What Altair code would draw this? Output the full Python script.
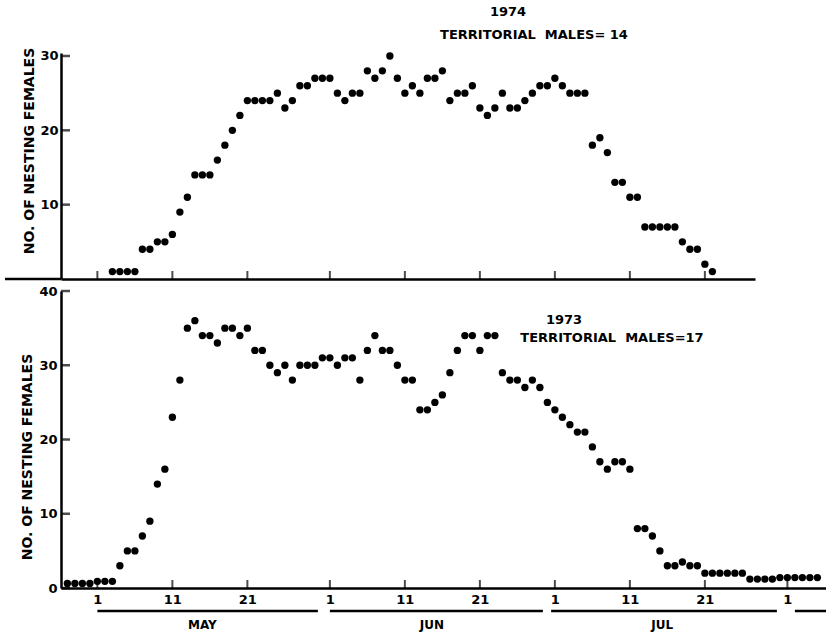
import altair as alt
import pandas as pd

# ---------------- data ----------------
# day numbering: May 1 = 1, Jun 1 = 32, Jul 1 = 62, Aug 1 = 93
days_1974 = list(range(3, 84))
females_1974 = [1, 1, 1, 1, 4, 4, 5, 5, 6, 9, 11, 14, 14, 14, 16, 18, 20, 22,
                24, 24, 24, 24, 25, 23, 24, 26, 26, 27, 27, 27, 25, 24, 25, 25,
                28, 27, 28, 30, 27, 25, 26, 25, 27, 27, 28, 24, 25, 25, 26, 23,
                22, 23, 25, 23, 23, 24, 25, 26, 26, 27, 26, 25, 25, 25, 18, 19,
                17, 13, 13, 11, 11, 7, 7, 7, 7, 7, 5, 4, 4, 2, 1]

days_1973 = list(range(-3, 98))
females_1973 = [0.6, 0.6, 0.6, 0.6, 0.9, 0.9, 0.9,
                3, 5, 5, 7, 9, 14, 16, 23, 28, 35, 36, 34, 34, 33, 35, 35, 34, 35,
                32, 32, 30, 29, 30, 28, 30, 30, 30, 31, 31, 30, 31, 31, 28, 32, 34,
                32, 32, 30, 28, 28, 24, 24, 25, 26, 29, 32, 34, 34, 32, 34, 34, 29,
                28, 28, 27, 28, 27, 25, 24, 23, 22, 21, 21, 19, 17, 16, 17, 17, 16,
                8, 8, 7, 5, 3, 3, 3.5, 3, 3,
                2, 2, 2, 2, 2, 2,
                1.2, 1.2, 1.2, 1.2,
                1.4, 1.4, 1.4, 1.4, 1.4, 1.4]

tick_days_top = [1, 11, 21, 32, 42, 52, 62, 72, 82]
tick_days_bottom = [1, 11, 21, 32, 42, 52, 62, 72, 82, 93]
y_ticks_1974 = [10, 20, 30]
y_ticks_1973 = [0, 10, 20, 30, 40]
month_labels = ["MAY", "JUN", "JUL"]
month_label_days = [15, 45.6, 76.3]
month_bar_start = [1, 32, 61.5, 94]
month_bar_end = [30.4, 60.4, 91.6, 98.15]

y_title = "NO. OF NESTING FEMALES"
year_1974 = "1974"
males_1974 = "TERRITORIAL\u00a0\u00a0MALES=\u00a014"
year_1973 = "1973"
males_1973 = "TERRITORIAL\u00a0\u00a0MALES=17"

# ---------------- layout constants ----------------
X0 = -3.85
PX_PER_DAY = 7.5
W_TOP, H_TOP = 694, 226
W_BOT, H_BOT = 765, 297
FONT = "DejaVu Sans"
BLACK = "#000000"
DOT = 54

label_expr = ("datum.value <= 31 ? datum.value : datum.value <= 61 ? datum.value - 31 : "
              "datum.value <= 92 ? datum.value - 61 : datum.value - 92")

# ---------------- top panel (1974) ----------------
xs_top = alt.Scale(domain=[X0, X0 + W_TOP / PX_PER_DAY], nice=False, zero=False)
ys_top = alt.Scale(domain=[0, 30.4], nice=False)
xa_top = alt.Axis(labels=False, ticks=False, grid=False, title=None,
                  domainColor=BLACK, domainWidth=2.5)
ya_top = alt.Axis(values=y_ticks_1974, ticks=False, grid=False, title=None,
                  domainColor=BLACK, domainWidth=2.5, labelPadding=3)

df74 = pd.DataFrame({"day": days_1974, "n": females_1974})

pts_top = alt.Chart(df74).mark_circle(size=DOT, color=BLACK, opacity=1).encode(
    x=alt.X("day:Q", scale=xs_top, axis=xa_top),
    y=alt.Y("n:Q", scale=ys_top, axis=ya_top),
)
xt_top = alt.Chart(pd.DataFrame({"day": tick_days_top})).mark_tick(
    orient="vertical", size=8, thickness=2, color=BLACK).encode(
    x=alt.X("day:Q", scale=xs_top, axis=xa_top),
    y=alt.value(H_TOP - 4),
)
yt_top = alt.Chart(pd.DataFrame({"v": y_ticks_1974})).mark_tick(
    orient="horizontal", size=9, thickness=2.5, color=BLACK).encode(
    y=alt.Y("v:Q", scale=ys_top, axis=ya_top),
    x=alt.value(4.5),
)
ext_top = alt.Chart(pd.DataFrame({"a": [0]})).mark_rule(color=BLACK, strokeWidth=2.5).encode(
    x=alt.value(-56), x2=alt.value(0), y=alt.value(H_TOP)
)
title_top = alt.Chart(pd.DataFrame({"t": [y_title]})).mark_text(
    angle=270, font=FONT, fontWeight="bold", fontSize=14, color=BLACK).encode(
    x=alt.value(-31), y=alt.value(98), text="t:N"
)
ann_top = alt.Chart(pd.DataFrame({"t": [year_1974, males_1974],
                                  "px": [447, 473], "py": [-41, -18]})).mark_text(
    font=FONT, fontWeight="bold", fontSize=13, color=BLACK).encode(
    x=alt.X("px:Q", scale=None), y=alt.Y("py:Q", scale=None), text="t:N"
)

top = alt.layer(pts_top, xt_top, yt_top, ext_top, title_top, ann_top).properties(
    width=W_TOP, height=H_TOP)

# ---------------- bottom panel (1973) ----------------
xs_bot = alt.Scale(domain=[X0, X0 + W_BOT / PX_PER_DAY], nice=False, zero=False)
ys_bot = alt.Scale(domain=[0, 40], nice=False)
xa_bot = alt.Axis(values=tick_days_bottom, labelExpr=label_expr, ticks=False, grid=False,
                  title=None, domainColor=BLACK, domainWidth=2.5, labelPadding=5,
                  labelFlush=False, labelOverlap=False)
ya_bot = alt.Axis(values=y_ticks_1973, ticks=False, grid=False, title=None,
                  domainColor=BLACK, domainWidth=2.5, labelPadding=4)

df73 = pd.DataFrame({"day": days_1973, "n": females_1973})

pts_bot = alt.Chart(df73).mark_circle(size=DOT, color=BLACK, opacity=1).encode(
    x=alt.X("day:Q", scale=xs_bot, axis=xa_bot),
    y=alt.Y("n:Q", scale=ys_bot, axis=ya_bot),
)
xt_bot = alt.Chart(pd.DataFrame({"day": tick_days_bottom})).mark_tick(
    orient="vertical", size=8, thickness=2, color=BLACK).encode(
    x=alt.X("day:Q", scale=xs_bot, axis=xa_bot),
    y=alt.value(H_BOT - 4),
)
yt_bot = alt.Chart(pd.DataFrame({"v": y_ticks_1973})).mark_tick(
    orient="horizontal", size=9, thickness=2.5, color=BLACK).encode(
    y=alt.Y("v:Q", scale=ys_bot, axis=ya_bot),
    x=alt.value(4.5),
)
bars = alt.Chart(pd.DataFrame({"s": month_bar_start, "e": month_bar_end})).mark_rule(
    color=BLACK, strokeWidth=2.5).encode(
    x=alt.X("s:Q", scale=xs_bot, axis=xa_bot),
    x2="e:Q",
    y=alt.value(H_BOT + 23),
)
months = alt.Chart(pd.DataFrame({"m": month_labels, "d": month_label_days})).mark_text(
    font=FONT, fontWeight="bold", fontSize=12, color=BLACK).encode(
    x=alt.X("d:Q", scale=xs_bot, axis=xa_bot),
    y=alt.value(H_BOT + 37),
    text="m:N",
)
title_bot = alt.Chart(pd.DataFrame({"t": [y_title]})).mark_text(
    angle=270, font=FONT, fontWeight="bold", fontSize=14, color=BLACK).encode(
    x=alt.value(-33), y=alt.value(166), text="t:N"
)
ann_bot = alt.Chart(pd.DataFrame({"t": [year_1973, males_1973],
                                  "px": [503, 551], "py": [29, 47]})).mark_text(
    font=FONT, fontWeight="bold", fontSize=13, color=BLACK).encode(
    x=alt.X("px:Q", scale=None), y=alt.Y("py:Q", scale=None), text="t:N"
)

bottom = alt.layer(pts_bot, xt_bot, yt_bot, bars, months, title_bot, ann_bot).properties(
    width=W_BOT, height=H_BOT)

chart = alt.vconcat(top, bottom, spacing=12, bounds="flush").properties(
    padding={"left": 61, "top": 53, "right": 765, "bottom": 583},
    autosize=alt.AutoSizeParams(type="none"),
    background="white",
).configure_view(stroke=None).configure_axis(
    labelFont=FONT, labelFontWeight="bold", labelFontSize=13, labelColor=BLACK,
)

chart.save("out.html", embed_options={"renderer": "svg", "actions": False})
